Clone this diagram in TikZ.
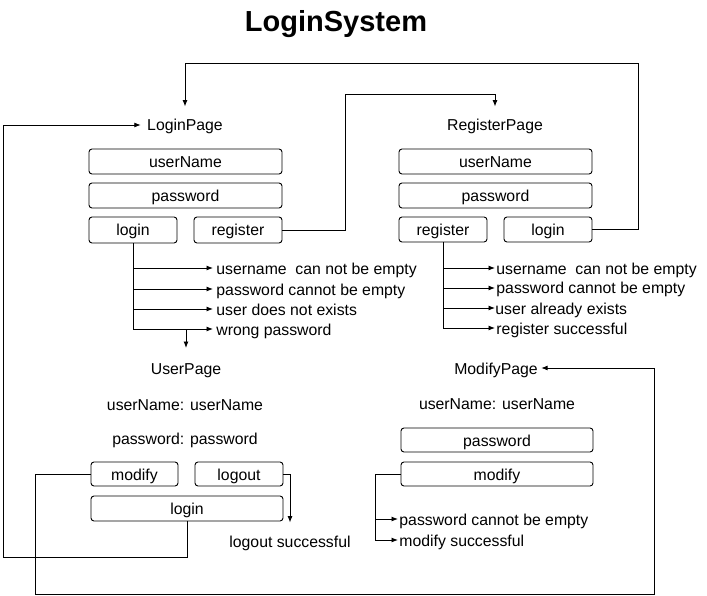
\documentclass[tikz,border=0pt]{standalone}
\usepackage{fontspec}
\setmainfont{Liberation Sans}
\usetikzlibrary{arrows.meta}
\newcommand{\lblfont}{\fontsize{15.8}{18}\selectfont}
\tikzset{
  every path/.style={line width=0.9pt},
  lbl/.style={inner sep=0pt, text height=14pt, text depth=2pt, font=\lblfont},
  btn/.style={draw, rounded corners=3pt, inner sep=0pt, minimum height=25pt, text height=14pt, text depth=2pt, font=\lblfont},
  arr/.style={-{Latex[length=6.5pt,width=5pt]}},
}
\begin{document}
\begin{tikzpicture}[x=1pt,y=-1pt]
\useasboundingbox (0,0) rectangle (707,596);
% title
\node[inner sep=0pt, font=\fontsize{29}{34}\selectfont\bfseries] (title) at (336,24) {LoginSystem};

% LoginPage
\node[lbl] (LP) at (185,125) {LoginPage};
\node[btn, minimum width=193pt] (lpU) at (185.5,161.5) {userName};
\node[btn, minimum width=193pt] (lpP) at (185.5,195.5) {password};
\node[btn, minimum width=88pt, minimum height=26pt] (lpLogin) at (133,230) {login};
\node[btn, minimum width=88pt, minimum height=26pt] (lpReg) at (238,230) {register};

\node[lbl, anchor=west] (m1) at (216,268) {username\ \ can not be empty};
\node[lbl, anchor=west] (m2) at (216,289) {password cannot be empty};
\node[lbl, anchor=west] (m3) at (216,309) {user does not exists};
\node[lbl, anchor=west] (m4) at (216,329) {wrong password};

% RegisterPage
\node[lbl] (RP) at (495,125) {RegisterPage};
\node[btn, minimum width=193pt] (rpU) at (495.5,161.5) {userName};
\node[btn, minimum width=193pt] (rpP) at (495.5,195.5) {password};
\node[btn, minimum width=88pt] (rpReg) at (443,229.5) {register};
\node[btn, minimum width=88pt] (rpLogin) at (548,229.5) {login};

\node[lbl, anchor=west] (r1) at (496,268) {username\ \ can not be empty};
\node[lbl, anchor=west] (r2) at (496,288) {password cannot be empty};
\node[lbl, anchor=west] (r3) at (495,308) {user already exists};
\node[lbl, anchor=west] (r4) at (496,328) {register successful};

% UserPage
\node[lbl] (UP) at (186,368) {UserPage};
\node[lbl] (upName) at (185,404) {userName: userName};
\node[lbl] (upPass) at (185,438) {password: password};
\node[btn, minimum width=87pt, minimum height=24pt] (upMod) at (134.5,474) {modify};
\node[btn, minimum width=88pt, minimum height=24pt] (upLogout) at (239,474) {logout};
\node[btn, minimum width=192pt] (upLogin) at (187,508.5) {login};
\node[lbl] (LS) at (290,541) {logout successful};

% ModifyPage
\node[lbl] (MP) at (496,368) {ModifyPage};
\node[lbl] (mpName) at (497,403) {userName: userName};
\node[btn, minimum width=192pt, minimum height=24pt] (mpPass) at (497,440) {password};
\node[btn, minimum width=192pt, minimum height=24pt] (mpMod) at (497,474) {modify};
\node[lbl, anchor=west] (s1) at (399,519) {password cannot be empty};
\node[lbl, anchor=west] (s2) at (399,540) {modify successful};

% coordinates for bends
\coordinate (c1) at (3,557);
\coordinate (c2) at (638,63);
\coordinate (c3) at (345,94);
\coordinate (c4) at (35,594.5);
\coordinate (c5) at (654,368);
\coordinate (c6) at (375,540);
\coordinate (d1) at (186,329);

% connectors
\draw[arr] (upLogin.south) |- (c1) |- ([xshift=-6pt]LP.west);
\draw[arr] (rpLogin.east) -| (c2) -| ([yshift=10pt]LP.north);
\draw[arr] (lpReg.east) -| (c3) -| ([yshift=10pt]RP.north);

\draw[arr] (lpLogin.south) |- ([xshift=-3pt]m4.west);
\draw[arr] (lpLogin.south |- m1.west) -- ([xshift=-3pt]m1.west);
\draw[arr] (lpLogin.south |- m2.west) -- ([xshift=-3pt]m2.west);
\draw[arr] (lpLogin.south |- m3.west) -- ([xshift=-3pt]m3.west);
\draw[arr] (d1) -- ([yshift=20pt]UP.center);

\draw[arr] (rpReg.south) |- ([xshift=-1pt]r4.west);
\draw[arr] (rpReg.south |- r1.west) -- ([xshift=-1pt]r1.west);
\draw[arr] (rpReg.south |- r2.west) -- ([xshift=-1pt]r2.west);
\draw[arr] (rpReg.south |- r3.west) -- (r3.west);

\draw[arr] (upLogout.east) -| ([yshift=10pt]LS.north);
\draw[arr] (upMod.west) -| (c4) -| (c5) -- ([xshift=3pt]MP.east);

\draw[arr] (mpMod.west) -| (c6) -- ([xshift=-1pt]s2.west);
\draw[arr] (c6 |- s1.west) -- ([xshift=-1pt]s1.west);
\end{tikzpicture}
\end{document}
